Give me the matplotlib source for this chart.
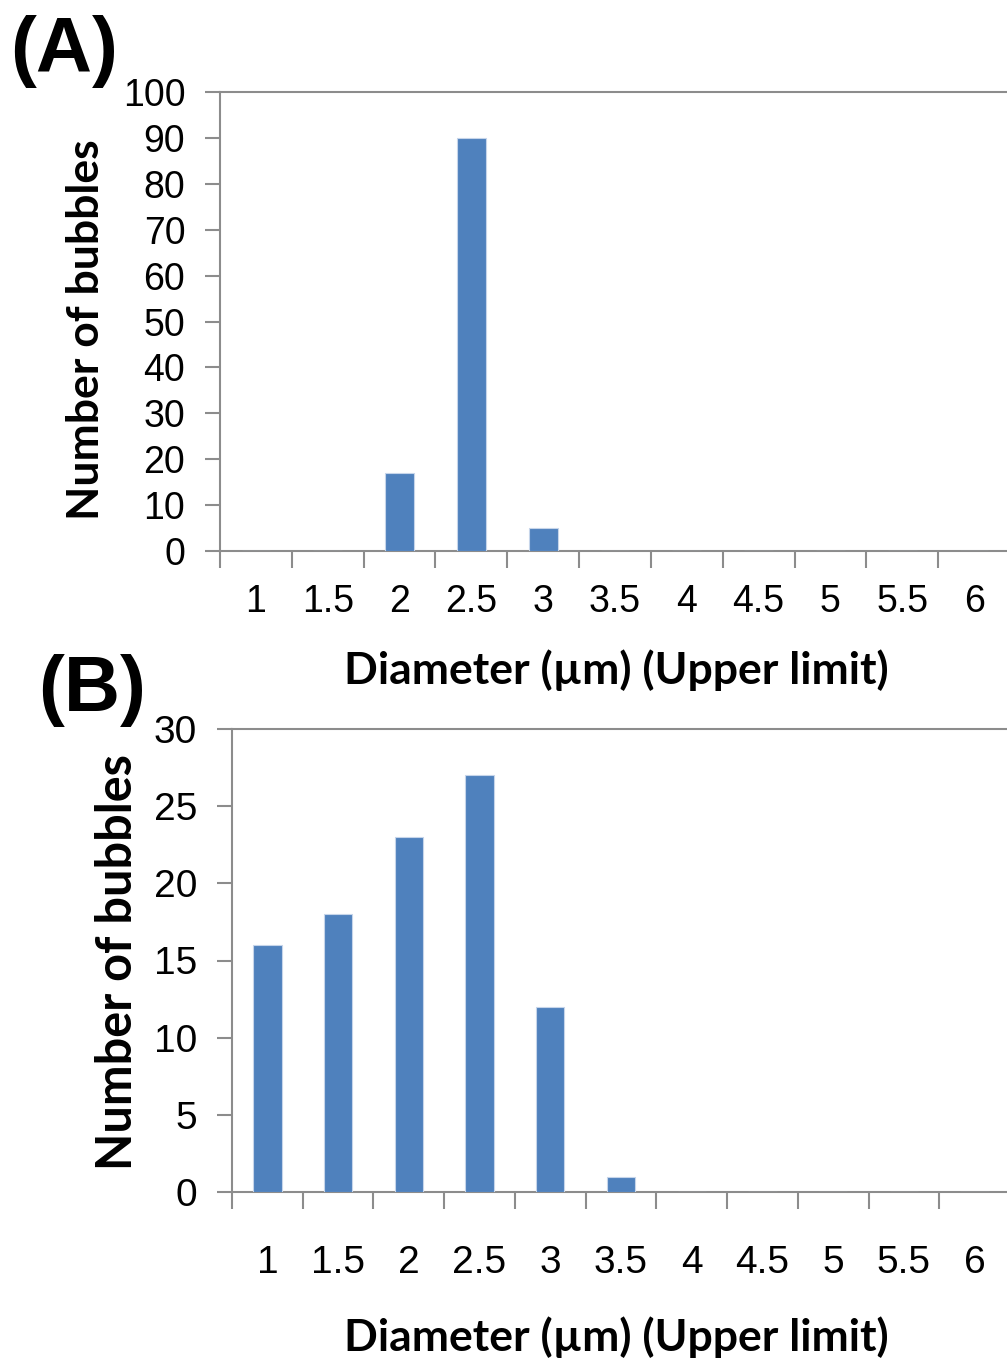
#!/usr/bin/env python3
"""Bubble size distributions, panels (A) and (B)."""

import matplotlib
matplotlib.use("Agg")
import matplotlib.pyplot as plt
import numpy as np

CATEGORIES = ["1", "1.5", "2", "2.5", "3", "3.5", "4", "4.5", "5", "5.5", "6"]
COUNTS_A = [0, 0, 17, 90, 5, 0, 0, 0, 0, 0, 0]
COUNTS_B = [16, 18, 23, 27, 12, 1, 0, 0, 0, 0, 0]

BAR_COLOR = "#4f81bd"
AXIS_COLOR = "#8c8c8c"
TICK_FONT = "Liberation Sans"
LABEL_FONT = "Lato"

W, H = 1007, 1361


def style_axes(ax, counts, ymax, ystep, tick_size, xpad, ypad, ylabel_size):
    x = np.arange(len(CATEGORIES))
    ax.bar(x, counts, width=0.4, color=BAR_COLOR, edgecolor="#c6d5ea", linewidth=0.8, zorder=3)
    ax.set_xlim(-0.5, len(CATEGORIES) - 0.5)
    ax.set_ylim(0, ymax)

    ax.set_xticks(np.arange(len(CATEGORIES) + 1) - 0.5)
    ax.set_xticklabels([])
    ax.set_xticks(x, minor=True)
    ax.set_xticklabels(CATEGORIES, minor=True, fontsize=tick_size, family=TICK_FONT)
    ax.tick_params(axis="x", which="major", length=12, width=1.5, color=AXIS_COLOR, direction="out")
    ax.tick_params(axis="x", which="minor", length=0, pad=xpad)

    ax.set_yticks(np.arange(0, ymax + ystep, ystep))
    ax.tick_params(axis="y", length=11, width=1.5, color=AXIS_COLOR, pad=ypad)
    for lab in ax.get_yticklabels():
        lab.set_fontsize(tick_size)
        lab.set_family(TICK_FONT)

    for side in ("left", "bottom", "top"):
        ax.spines[side].set_color(AXIS_COLOR)
        ax.spines[side].set_linewidth(1.5)
    ax.spines["right"].set_visible(False)

    ax.set_ylabel("Number of bubbles", fontsize=ylabel_size, fontweight="bold", family=LABEL_FONT)
    ax.set_xlabel("Diameter (µm) (Upper limit)", fontsize=32, fontweight="bold", family=LABEL_FONT)
    ax.xaxis.label.set_va("center")
    ax.yaxis.label.set_va("center")


fig = plt.figure(figsize=(W / 100, H / 100), dpi=100)

ax_a = fig.add_axes([220 / W, 1 - 551 / H, 790 / W, (551 - 92) / H])
style_axes(ax_a, COUNTS_A, 100, 10, 27, 24, 14, 32)
ax_a.yaxis.set_label_coords((87 - 220) / 787, (551 - 330) / 459)
ax_a.xaxis.set_label_coords((615 - 220) / 787, (551 - 670) / 459)

ax_b = fig.add_axes([232 / W, 1 - 1192 / H, 778 / W, (1192 - 729) / H])
style_axes(ax_b, COUNTS_B, 30, 5, 28, 38, 14, 35)
ax_b.yaxis.set_label_coords((118 - 232) / 775, (1192 - 962) / 463)
ax_b.xaxis.set_label_coords((615 - 232) / 775, (1192 - 1337) / 463)

fig.text(10 / W, 1 - 52 / H, "(A)", fontsize=56, fontweight="bold", family=TICK_FONT, va="center", ha="left")
fig.text(38 / W, 1 - 690 / H, "(B)", fontsize=56, fontweight="bold", family=TICK_FONT, va="center", ha="left")

fig.savefig("out.png", dpi=100)
plt.close(fig)
